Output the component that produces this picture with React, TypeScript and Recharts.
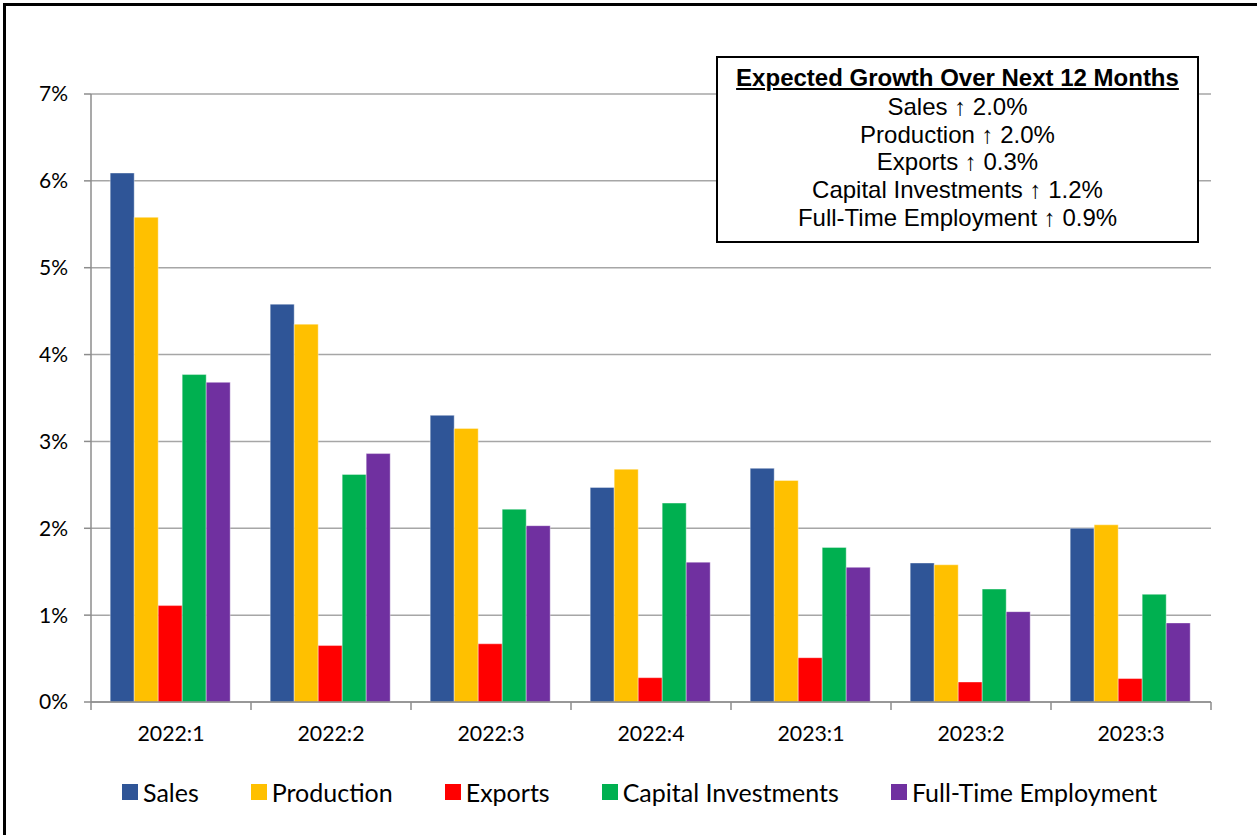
import { BarChart, Bar, XAxis, YAxis, CartesianGrid } from 'recharts';

const categories = ['2022:1', '2022:2', '2022:3', '2022:4', '2023:1', '2023:2', '2023:3'];
const sales = [6.09, 4.58, 3.3, 2.47, 2.69, 1.6, 2.0];
const production = [5.58, 4.35, 3.15, 2.68, 2.55, 1.58, 2.04];
const exportsData = [1.11, 0.65, 0.67, 0.28, 0.51, 0.23, 0.27];
const capital = [3.77, 2.62, 2.22, 2.29, 1.78, 1.3, 1.24];
const employment = [3.68, 2.86, 2.03, 1.61, 1.55, 1.04, 0.91];
const yTicks = [0, 1, 2, 3, 4, 5, 6, 7];

const series = [
    { key: 'sales', name: 'Sales', color: '#2f5597', values: sales },
    { key: 'production', name: 'Production', color: '#ffc000', values: production },
    { key: 'exports', name: 'Exports', color: '#ff0000', values: exportsData },
    { key: 'capital', name: 'Capital Investments', color: '#00b050', values: capital },
    { key: 'employment', name: 'Full-Time Employment', color: '#7030a0', values: employment },
];

const outlookTitle = 'Expected Growth Over Next 12 Months';
const outlook = [
    'Sales \u2191 2.0%',
    'Production \u2191 2.0%',
    'Exports \u2191 0.3%',
    'Capital Investments \u2191 1.2%',
    'Full-Time Employment \u2191 0.9%',
];

const data = categories.map((name, i) => {
    const row: Record<string, string | number> = { name };
    series.forEach((s) => { row[s.key] = s.values[i]; });
    return row;
});

const axisFont = 'Lato, "Open Sans", sans-serif';

const QuarterTick = (props: any) => {
    const { x, y, payload, index, width } = props;
    const band = width / categories.length;
    const left = x - band / 2;
    return (
        <g>
            <line x1={left} y1={y} x2={left} y2={y + 8} stroke="#8c8c8c" strokeWidth={1.5} />
            {index === categories.length - 1 && (
                <line x1={x + band / 2} y1={y} x2={x + band / 2} y2={y + 8} stroke="#8c8c8c" strokeWidth={1.5} />
            )}
            <text x={x} y={y + 39} textAnchor="middle" fill="#000" fontSize={21.3} fontFamily={axisFont}>
                {payload.value}
            </text>
        </g>
    );
};

export default function App() {
    return (
        <div style={{ position: 'absolute', left: 0, top: 0, width: 1257, height: 835, overflow: 'hidden', background: '#fff' }}>
            <div
                style={{
                    position: 'absolute', left: 3, top: 3, width: 1300, height: 900,
                    border: '3px solid #000', boxSizing: 'border-box',
                }}
            />
            <div style={{ position: 'absolute', left: 0, top: 0 }}>
                <BarChart
                    width={1257}
                    height={835}
                    data={data}
                    margin={{ top: 94, right: 46, left: 31, bottom: 103 }}
                    barCategoryGap="12%"
                    barGap={0}
                >
                    <CartesianGrid vertical={false} stroke="#a6a6a6" strokeWidth={1.5} />
                    <XAxis
                        dataKey="name"
                        height={30}
                        axisLine={{ stroke: '#8c8c8c', strokeWidth: 1.5 }}
                        tickLine={false}
                        tickSize={0}
                        tickMargin={0}
                        interval={0}
                        tick={<QuarterTick />}
                    />
                    <YAxis
                        width={60}
                        domain={[0, 7]}
                        ticks={yTicks}
                        interval={0}
                        tickFormatter={(v: number) => `${v}%`}
                        axisLine={{ stroke: '#8c8c8c', strokeWidth: 1.5 }}
                        tickLine={{ stroke: '#8c8c8c', strokeWidth: 1.5 }}
                        tickSize={7}
                        tickMargin={16}
                        tick={{ fill: '#000', fontSize: 21, fontFamily: axisFont }}
                    />
                    {series.map((s) => (
                        <Bar
                            key={s.key}
                            dataKey={s.key}
                            name={s.name}
                            fill={s.color}
                            stroke="#ffffff"
                            strokeOpacity={0.5}
                            strokeWidth={0.75}
                            isAnimationActive={false}
                        />
                    ))}
                </BarChart>
            </div>

            <div
                style={{
                    position: 'absolute', left: 716, top: 56, width: 483, height: 187,
                    border: '2px solid #000', boxSizing: 'border-box', background: '#fff',
                    textAlign: 'center', fontFamily: '"Liberation Sans", Arial, sans-serif',
                    fontSize: 24, lineHeight: '27.8px', color: '#000', paddingTop: 6,
                }}
            >
                <div style={{ fontWeight: 'bold', textDecoration: 'underline', marginBottom: 1 }}>{outlookTitle}</div>
                {outlook.map((line) => (
                    <div key={line}>{line}</div>
                ))}
            </div>

            <div
                style={{
                    position: 'absolute', left: 122, top: 777, display: 'flex', alignItems: 'center',
                    fontFamily: axisFont, fontSize: 25, color: '#000', whiteSpace: 'nowrap',
                }}
            >
                {series.map((s, i) => (
                    <div key={s.key} style={{ display: 'flex', alignItems: 'center', marginRight: i < series.length - 1 ? 52 : 0 }}>
                        <span style={{ width: 16, height: 16, background: s.color, display: 'inline-block', marginRight: 5 }} />
                        <span>{s.name}</span>
                    </div>
                ))}
            </div>
        </div>
    );
}
